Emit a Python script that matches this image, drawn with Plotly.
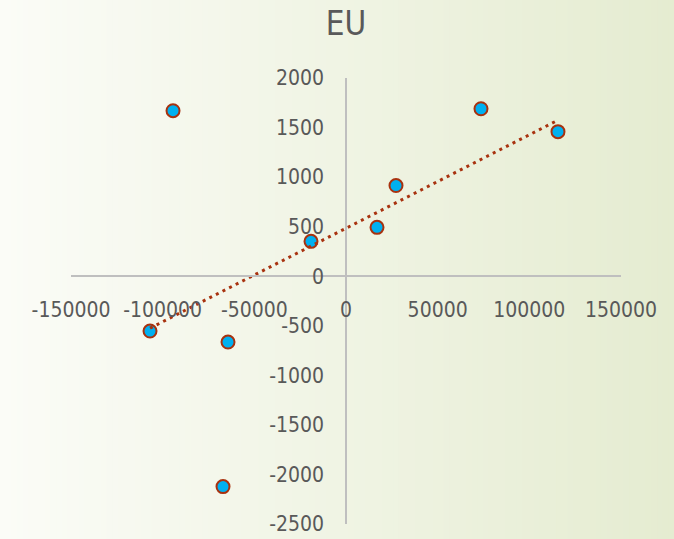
import numpy as np
import plotly.graph_objects as go

# Scatter data for EU
x_vals = [-94364, 73636, 115636, 27273, 16909, -19091, -106909, -64364, -67091]
y_vals = [1670, 1690, 1459, 915, 493, 352, -553, -664, -2123]

x_ticks = [-150000, -100000, -50000, 0, 50000, 100000, 150000]
x_tick_text = ["-150000", "-100000", "-50000", "0", "50000", "100000", "150000"]
y_ticks = [2000, 1500, 1000, 500, 0, -500, -1000, -1500, -2000, -2500]
y_tick_text = ["2000", "1500", "1000", "500", "0", "-500", "-1000", "-1500", "-2000", "-2500"]

W, H = 674, 539
ML, MR, MT, MB = 71, 53, 78, 15
FONT = "DejaVu Sans Condensed, DejaVu Sans, sans-serif"
TEXT = "#595959"

# Linear trendline across the data's x span
slope, intercept = np.polyfit(x_vals, y_vals, 1)
trend_x = [min(x_vals), max(x_vals)]
trend_y = [slope * v + intercept for v in trend_x]

fig = go.Figure()
fig.add_trace(go.Scatter(
    x=x_vals, y=y_vals, mode="markers",
    marker=dict(size=13, color="#00B0F0", line=dict(color="#A8320F", width=2)),
    showlegend=False, hoverinfo="x+y",
))
fig.add_trace(go.Scatter(
    x=trend_x, y=trend_y, mode="lines",
    line=dict(color="#A8320F", width=3, dash="3px,4.4px"),
    showlegend=False, hoverinfo="skip",
))

# Horizontal background gradient built from thin stripes
pw, ph = W - ML - MR, H - MT - MB
n = 120
c0 = np.array([0xFB, 0xFC, 0xF7])
c1 = np.array([0xE5, 0xEC, 0xD1])
shapes = []
for i in range(n):
    t = i / (n - 1)
    c = (c0 + (c1 - c0) * t).round().astype(int)
    px0 = W * i / n
    px1 = W * (i + 1) / n + 1
    shapes.append(dict(
        type="rect", xref="paper", yref="paper", layer="below",
        x0=(px0 - ML) / pw, x1=(px1 - ML) / pw,
        y0=-MB / ph - 0.05, y1=(H - MB) / ph + 0.05,
        fillcolor=f"rgb({c[0]},{c[1]},{c[2]})", line=dict(width=0),
    ))

eps = 1e-4
fig.update_layout(
    width=W, height=H,
    margin=dict(l=ML, r=MR, t=MT, b=MB, autoexpand=False),
    paper_bgcolor="#F0F4E4", plot_bgcolor="rgba(0,0,0,0)",
    shapes=shapes,
    title=dict(text="EU", x=346 / W, xanchor="center", y=1 - 23 / H, yanchor="middle",
               xref="container", yref="container", automargin=False,
               font=dict(family=FONT, size=33, color=TEXT)),
    font=dict(family=FONT, color=TEXT),
    xaxis=dict(
        range=[-150000 * (1 + eps), 150000 * (1 + eps)],
        tickvals=x_ticks, ticktext=x_tick_text, tickangle=0,
        anchor="free", position=2500 / 4500, automargin=False,
        showline=True, linecolor="#BFBFBF", linewidth=1.5,
        showgrid=False, zeroline=False, ticks="",
        ticklabelstandoff=15,
        tickfont=dict(family=FONT, size=21, color=TEXT),
    ),
    yaxis=dict(
        range=[-2500 * (1 + eps), 2000 * (1 + eps)],
        tickvals=y_ticks, ticktext=y_tick_text,
        anchor="free", position=0.5, automargin=False,
        showline=True, linecolor="#BFBFBF", linewidth=1.5,
        showgrid=False, zeroline=False, ticks="",
        ticklabelstandoff=17,
        tickfont=dict(family=FONT, size=21, color=TEXT),
    ),
)

fig.write_html("out.html")
